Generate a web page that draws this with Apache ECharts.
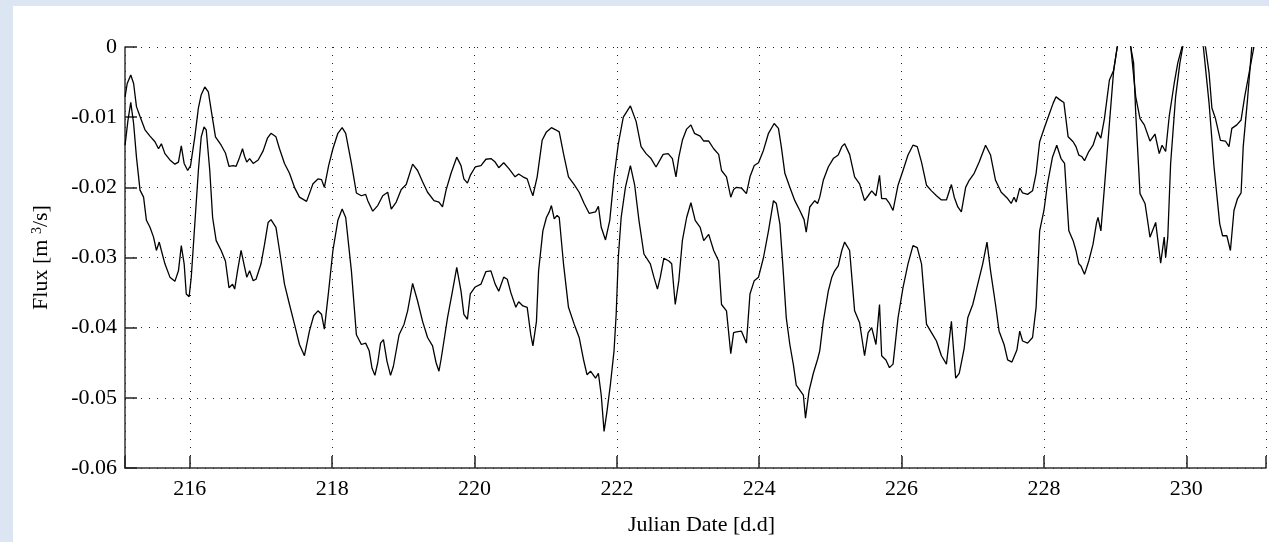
<!DOCTYPE html>
<html>
<head>
<meta charset="utf-8">
<style>
  html, body { margin: 0; padding: 0; background: #dce6f2; }
  #chart { width: 1269px; height: 542px; }
</style>
<script src="https://cdn.jsdelivr.net/npm/echarts@6/dist/echarts.min.js"></script>
</head>
<body>
<div id="chart"></div>
<script>
// upper curve (smaller flux)
var upperDays = [215.09,215.12,215.17,215.21,215.25,215.30,215.37,215.44,215.51,215.56,215.60,215.65,215.72,215.79,215.84,215.88,215.92,215.97,
  216.01,216.07,216.12,216.16,216.21,216.26,216.30,216.36,216.44,216.50,216.55,216.61,216.65,216.70,216.74,216.77,216.80,216.84,216.89,216.96,
  217.03,217.09,217.14,217.21,217.26,217.33,217.40,217.47,217.54,217.64,217.68,217.73,217.80,217.85,217.89,217.95,
  218.01,218.08,218.14,218.19,218.27,218.34,218.41,218.47,218.50,218.57,218.64,218.71,218.78,218.83,218.90,218.97,
  219.04,219.13,219.20,219.27,219.34,219.43,219.50,219.55,219.60,219.67,219.75,219.81,219.85,219.90,219.94,
  220.01,220.09,220.16,220.23,220.29,220.34,220.41,220.48,220.57,220.62,220.68,220.74,220.79,220.82,220.88,220.95,
  221.01,221.08,221.14,221.19,221.25,221.32,221.40,221.47,221.54,221.61,221.70,221.74,221.78,221.84,221.90,221.96,
  222.02,222.09,222.19,222.27,222.34,222.41,222.48,222.55,222.65,222.72,222.78,222.83,222.87,222.92,222.98,
  223.04,223.09,223.17,223.22,223.29,223.36,223.43,223.47,223.54,223.60,223.64,223.68,223.75,223.82,223.87,223.93,223.99,
  224.06,224.13,224.21,224.27,224.31,224.36,224.43,224.50,224.57,224.63,224.66,224.71,224.78,224.82,224.85,224.90,224.97,
  225.04,225.11,225.16,225.20,225.27,225.34,225.41,225.48,225.53,225.58,225.64,225.69,225.72,225.78,225.83,225.88,225.95,
  226.02,226.09,226.16,226.22,226.28,226.35,226.42,226.49,226.56,226.63,226.70,226.74,226.79,226.84,226.90,226.95,
  227.02,227.09,227.18,227.25,227.32,227.40,227.49,227.54,227.58,227.61,227.66,227.70,227.77,227.84,227.89,227.94,
  228.01,228.07,228.13,228.17,228.22,228.28,228.34,228.41,228.45,228.49,228.53,228.57,228.63,228.69,228.75,228.80,228.85,228.92,228.98,
  229.03,229.12,229.22,229.29,229.35,229.41,229.49,229.56,229.62,229.66,229.71,229.76,229.83,229.88,229.94,
  230.08,230.27,230.32,230.36,230.41,230.48,230.55,230.60,230.64,230.71,230.77,230.82,230.89,230.95];
var upperFlux = [-0.0071,-0.0052,-0.0040,-0.0052,-0.0085,-0.0099,-0.0118,-0.0127,-0.0135,-0.0145,-0.0138,-0.0152,-0.0161,-0.0167,-0.0164,-0.0141,-0.0166,-0.0176,
  -0.0169,-0.0128,-0.0087,-0.0068,-0.0057,-0.0064,-0.0090,-0.0128,-0.0140,-0.0151,-0.0170,-0.0169,-0.0170,-0.0157,-0.0145,-0.0156,-0.0164,-0.0159,-0.0166,-0.0161,
  -0.0148,-0.0130,-0.0123,-0.0128,-0.0145,-0.0166,-0.0180,-0.0200,-0.0214,-0.0220,-0.0209,-0.0195,-0.0188,-0.0189,-0.0200,-0.0169,
  -0.0145,-0.0123,-0.0115,-0.0123,-0.0166,-0.0208,-0.0212,-0.0210,-0.0219,-0.0234,-0.0226,-0.0212,-0.0207,-0.0231,-0.0221,-0.0203,
  -0.0196,-0.0167,-0.0176,-0.0192,-0.0207,-0.0219,-0.0221,-0.0228,-0.0204,-0.0180,-0.0157,-0.0169,-0.0188,-0.0194,-0.0183,
  -0.0171,-0.0169,-0.0160,-0.0159,-0.0164,-0.0172,-0.0165,-0.0173,-0.0185,-0.0181,-0.0185,-0.0188,-0.0204,-0.0212,-0.0185,-0.0133,
  -0.0121,-0.0115,-0.0118,-0.0121,-0.0152,-0.0185,-0.0196,-0.0207,-0.0223,-0.0237,-0.0235,-0.0227,-0.0257,-0.0275,-0.0247,-0.0185,
  -0.0138,-0.0100,-0.0084,-0.0106,-0.0142,-0.0152,-0.0159,-0.0171,-0.0153,-0.0152,-0.0159,-0.0185,-0.0157,-0.0133,-0.0117,
  -0.0111,-0.0123,-0.0127,-0.0134,-0.0134,-0.0145,-0.0153,-0.0176,-0.0185,-0.0214,-0.0203,-0.0200,-0.0201,-0.0209,-0.0185,-0.0169,-0.0165,
  -0.0147,-0.0123,-0.0109,-0.0116,-0.0142,-0.0180,-0.0200,-0.0219,-0.0233,-0.0246,-0.0264,-0.0228,-0.0219,-0.0223,-0.0214,-0.0190,-0.0171,
  -0.0159,-0.0154,-0.0142,-0.0138,-0.0153,-0.0185,-0.0195,-0.0219,-0.0212,-0.0205,-0.0212,-0.0183,-0.0216,-0.0216,-0.0223,-0.0233,-0.0197,
  -0.0176,-0.0154,-0.0140,-0.0142,-0.0164,-0.0197,-0.0205,-0.0212,-0.0218,-0.0218,-0.0196,-0.0214,-0.0228,-0.0235,-0.0200,-0.0190,
  -0.0180,-0.0164,-0.0140,-0.0154,-0.0190,-0.0207,-0.0216,-0.0223,-0.0214,-0.0221,-0.0201,-0.0208,-0.0210,-0.0205,-0.0180,-0.0135,
  -0.0114,-0.0097,-0.0080,-0.0071,-0.0075,-0.0079,-0.0128,-0.0135,-0.0142,-0.0154,-0.0156,-0.0162,-0.0149,-0.0140,-0.0121,-0.0130,-0.0102,-0.0047,-0.0033,
  0.0000,0.0040,0.0000,-0.0071,-0.0102,-0.0111,-0.0134,-0.0124,-0.0152,-0.0140,-0.0149,-0.0099,-0.0052,-0.0023,0.0000,
  0.0040,0.0000,-0.0037,-0.0087,-0.0102,-0.0133,-0.0134,-0.0142,-0.0116,-0.0111,-0.0104,-0.0071,-0.0033,0.0000];

// lower curve (larger flux)
var lowerDays = [215.09,215.13,215.17,215.21,215.25,215.30,215.35,215.39,215.44,215.49,215.53,215.57,215.60,215.65,215.72,215.79,215.84,215.88,215.92,215.95,215.99,
  216.02,216.07,216.12,216.16,216.20,216.23,216.28,216.32,216.37,216.44,216.50,216.55,216.60,216.63,216.67,216.72,216.77,216.80,216.84,216.89,216.93,
  217.00,217.05,217.10,217.14,217.21,217.26,217.33,217.40,217.47,217.54,217.61,217.68,217.74,217.80,217.85,217.89,217.95,
  218.01,218.08,218.14,218.19,218.27,218.34,218.41,218.47,218.52,218.56,218.60,218.64,218.68,218.72,218.77,218.82,218.86,218.94,
  219.01,219.06,219.13,219.20,219.27,219.34,219.41,219.46,219.50,219.53,219.57,219.62,219.69,219.75,219.81,219.85,219.90,219.94,
  220.01,220.09,220.16,220.23,220.29,220.34,220.41,220.46,220.51,220.58,220.62,220.68,220.74,220.79,220.82,220.87,220.90,220.96,
  221.01,221.05,221.08,221.12,221.16,221.19,221.25,221.32,221.40,221.47,221.53,221.58,221.63,221.70,221.74,221.78,221.82,221.86,221.91,221.96,221.99,
  222.02,222.06,222.12,222.19,222.25,222.31,222.38,222.47,222.52,222.57,222.61,222.66,222.73,222.77,222.82,222.87,222.92,222.98,
  223.04,223.10,223.17,223.22,223.29,223.36,223.43,223.47,223.54,223.60,223.64,223.68,223.75,223.82,223.87,223.93,223.99,
  224.06,224.13,224.20,224.24,224.29,224.33,224.38,224.43,224.48,224.52,224.57,224.62,224.65,224.70,224.76,224.82,224.85,224.90,224.97,
  225.02,225.06,225.11,225.16,225.20,225.27,225.34,225.41,225.48,225.53,225.58,225.64,225.69,225.72,225.78,225.83,225.88,225.95,
  226.02,226.09,226.16,226.22,226.28,226.35,226.42,226.49,226.56,226.63,226.70,226.76,226.81,226.85,226.88,226.93,
  227.00,227.07,227.14,227.20,227.25,227.32,227.37,227.44,227.49,227.55,227.62,227.66,227.70,227.77,227.84,227.89,227.94,
  228.00,228.05,228.12,228.18,228.24,228.29,228.35,228.41,228.45,228.49,228.52,228.57,228.63,228.69,228.74,228.76,228.80,228.85,228.92,228.98,
  229.03,229.12,229.22,229.26,229.29,229.35,229.42,229.45,229.49,229.57,229.64,229.69,229.71,229.74,229.78,229.85,229.91,229.95,
  230.08,230.24,230.32,230.39,230.47,230.51,230.57,230.62,230.67,230.72,230.77,230.80,230.86,230.92];
var lowerFlux = [-0.0140,-0.0105,-0.0079,-0.0109,-0.0157,-0.0204,-0.0214,-0.0247,-0.0257,-0.0271,-0.0290,-0.0278,-0.0290,-0.0309,-0.0328,-0.0334,-0.0319,-0.0283,-0.0309,-0.0352,-0.0356,
  -0.0328,-0.0252,-0.0176,-0.0128,-0.0114,-0.0118,-0.0176,-0.0243,-0.0276,-0.0290,-0.0305,-0.0343,-0.0338,-0.0345,-0.0319,-0.0290,-0.0314,-0.0328,-0.0319,-0.0333,-0.0331,
  -0.0309,-0.0281,-0.0250,-0.0246,-0.0257,-0.0290,-0.0338,-0.0367,-0.0395,-0.0424,-0.0440,-0.0405,-0.0383,-0.0376,-0.0381,-0.0402,-0.0348,
  -0.0290,-0.0247,-0.0231,-0.0243,-0.0319,-0.0410,-0.0424,-0.0422,-0.0433,-0.0458,-0.0468,-0.0450,-0.0422,-0.0417,-0.0448,-0.0468,-0.0455,-0.0410,
  -0.0395,-0.0376,-0.0337,-0.0362,-0.0391,-0.0414,-0.0426,-0.0450,-0.0462,-0.0445,-0.0419,-0.0386,-0.0348,-0.0314,-0.0348,-0.0381,-0.0388,-0.0352,
  -0.0342,-0.0338,-0.0320,-0.0319,-0.0338,-0.0348,-0.0328,-0.0331,-0.0350,-0.0371,-0.0363,-0.0369,-0.0371,-0.0410,-0.0426,-0.0391,-0.0319,-0.0262,
  -0.0243,-0.0235,-0.0226,-0.0245,-0.0240,-0.0243,-0.0309,-0.0371,-0.0395,-0.0414,-0.0445,-0.0467,-0.0462,-0.0472,-0.0465,-0.0496,-0.0548,-0.0520,-0.0480,-0.0433,-0.0381,
  -0.0300,-0.0243,-0.0200,-0.0169,-0.0197,-0.0247,-0.0295,-0.0309,-0.0328,-0.0345,-0.0328,-0.0301,-0.0305,-0.0309,-0.0367,-0.0333,-0.0276,-0.0243,
  -0.0222,-0.0247,-0.0257,-0.0276,-0.0267,-0.0290,-0.0305,-0.0367,-0.0376,-0.0437,-0.0407,-0.0406,-0.0405,-0.0422,-0.0352,-0.0333,-0.0328,
  -0.0300,-0.0262,-0.0219,-0.0223,-0.0252,-0.0309,-0.0386,-0.0424,-0.0453,-0.0482,-0.0489,-0.0496,-0.0529,-0.0490,-0.0465,-0.0445,-0.0433,-0.0391,-0.0348,
  -0.0328,-0.0319,-0.0312,-0.0290,-0.0278,-0.0290,-0.0376,-0.0393,-0.0440,-0.0407,-0.0400,-0.0424,-0.0367,-0.0440,-0.0446,-0.0457,-0.0452,-0.0386,
  -0.0343,-0.0309,-0.0283,-0.0286,-0.0309,-0.0395,-0.0407,-0.0419,-0.0440,-0.0452,-0.0391,-0.0472,-0.0465,-0.0445,-0.0429,-0.0386,
  -0.0367,-0.0338,-0.0309,-0.0278,-0.0319,-0.0367,-0.0405,-0.0424,-0.0446,-0.0449,-0.0432,-0.0405,-0.0419,-0.0422,-0.0414,-0.0371,-0.0262,
  -0.0233,-0.0195,-0.0157,-0.0140,-0.0159,-0.0166,-0.0262,-0.0276,-0.0290,-0.0309,-0.0312,-0.0324,-0.0305,-0.0281,-0.0250,-0.0243,-0.0262,-0.0200,-0.0109,-0.0033,
  0.0000,0.0040,0.0000,-0.0023,-0.0095,-0.0209,-0.0223,-0.0243,-0.0271,-0.0250,-0.0308,-0.0271,-0.0300,-0.0271,-0.0166,-0.0071,-0.0023,0.0000,
  0.0040,0.0000,-0.0080,-0.0171,-0.0252,-0.0269,-0.0269,-0.0290,-0.0233,-0.0216,-0.0208,-0.0142,-0.0075,0.0000];

var xRange = [215.089, 231.12];
var yRange = [-0.06, 0];

function pairs(xs, ys) {
  var out = [];
  for (var i = 0; i < xs.length; i++) out.push([xs[i], ys[i]]);
  return out;
}

var myChart = echarts.init(document.getElementById('chart'));
var font = 'Liberation Serif';
var option = {
  animation: false,
  backgroundColor: '#dce6f2',
  graphic: [{
    type: 'rect', z: -1, silent: true,
    shape: { x: 13, y: 6, width: 1256, height: 536 },
    style: { fill: '#ffffff' }
  }],
  grid: { left: 125, right: 0, top: 47, bottom: 74 },
  xAxis: {
    type: 'value',
    min: xRange[0],
    max: xRange[1],
    splitNumber: 8,
    name: 'Julian Date [d.d]',
    nameLocation: 'middle',
    nameGap: 46,
    nameTextStyle: { fontFamily: font, fontSize: 22, color: '#000', padding: [0, 0, 0, 12] },
    axisLine: { onZero: false, lineStyle: { color: '#333', width: 1.5 } },
    axisTick: { inside: true, length: 12, lineStyle: { color: '#222', width: 1.5 } },
    axisLabel: {
      fontFamily: font, fontSize: 22, color: '#000', margin: 10,
      formatter: function (v) {
        var r = Math.round(v);
        return (Math.abs(v - r) < 1e-6 && r % 2 === 0) ? String(r) : '';
      }
    },
    splitLine: { show: true, lineStyle: { color: '#222', type: [1, 7], width: 1 } }
  },
  yAxis: {
    type: 'value',
    min: yRange[0],
    max: yRange[1],
    interval: 0.01,
    name: 'Flux [m {sup|3}/s]',
    nameLocation: 'middle',
    nameGap: 73,
    nameTextStyle: {
      fontFamily: font, fontSize: 22, color: '#000',
      rich: { sup: { fontFamily: font, fontSize: 14, verticalAlign: 'top', color: '#000' } }
    },
    axisLine: { show: true, onZero: false, lineStyle: { color: '#333', width: 1.5 } },
    axisTick: { show: true, inside: true, length: 12, lineStyle: { color: '#222', width: 1.5 } },
    axisLabel: { fontFamily: font, fontSize: 22, color: '#000', margin: 8 },
    splitLine: { show: true, lineStyle: { color: '#222', type: [1, 7], width: 1 } }
  },
  series: [
    {
      type: 'line', data: pairs(upperDays, upperFlux), showSymbol: false,
      lineStyle: { color: '#000', width: 1.3 }, clip: true
    },
    {
      type: 'line', data: pairs(lowerDays, lowerFlux), showSymbol: false,
      lineStyle: { color: '#000', width: 1.3 }, clip: true
    }
  ]
};
myChart.setOption(option);
</script>
</body>
</html>
